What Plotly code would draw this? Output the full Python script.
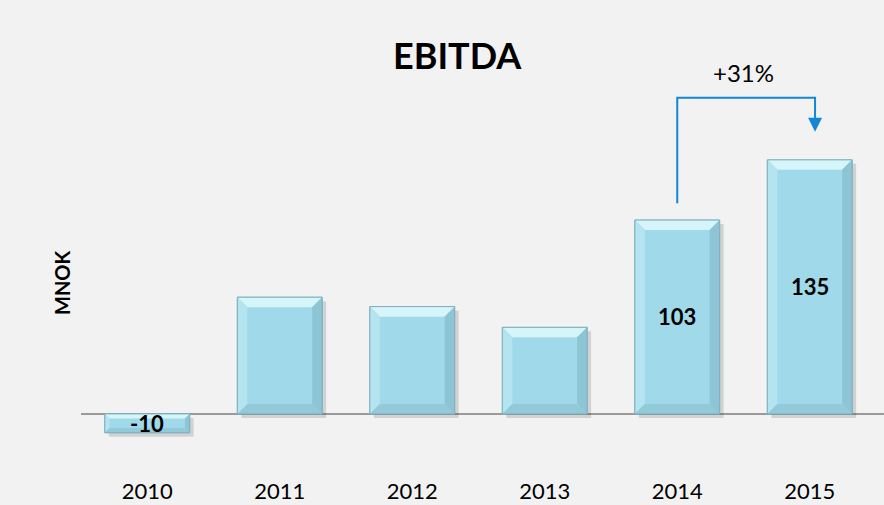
import plotly.graph_objects as go

# data
years = ["2010", "2011", "2012", "2013", "2014", "2015"]
ebitda = [-10, 62, 57, 46, 103, 135]
shown_labels = ["-10", "", "", "", "103", "135"]
growth_text = "+31%"

W, H = 884, 505
L, R, T, B = 81, 8, 94, 29
y_range = [-33, 170]
bar_w = 0.64

px_per_cat = (W - L - R) / len(years)
px_per_unit = (H - T - B) / (y_range[1] - y_range[0])

fig = go.Figure()
fig.add_trace(go.Bar(
    x=list(range(len(years))), y=ebitda, width=bar_w,
    marker=dict(color="#a0d9e9", line=dict(color="#7fb0bf", width=1)),
    hovertext=years, hoverinfo="text+y",
))

# bevel + shadow shapes built from the bar values
for i, v in enumerate(ebitda):
    x0, x1 = i - bar_w / 2, i + bar_w / 2
    top, bot = max(v, 0), min(v, 0)
    d = min(10, abs(v) * px_per_unit / 4)
    dx, dy = d / px_per_cat, d / px_per_unit
    sx, sy = 4 / px_per_cat, 4 / px_per_unit
    fig.add_shape(type="rect", x0=x0 + sx, x1=x1 + sx, y0=bot - sy, y1=top - sy,
                  fillcolor="rgba(0,0,0,0.13)", line_width=0, layer="below")
    faces = [
        (f"M {x0},{top} L {x1},{top} L {x1-dx},{top-dy} L {x0+dx},{top-dy} Z", "#d5f5fa"),
        (f"M {x0},{top} L {x0+dx},{top-dy} L {x0+dx},{bot+dy} L {x0},{bot} Z", "#b3e4f0"),
        (f"M {x1},{top} L {x1-dx},{top-dy} L {x1-dx},{bot+dy} L {x1},{bot} Z", "#8ec5d5"),
        (f"M {x0},{bot} L {x0+dx},{bot+dy} L {x1-dx},{bot+dy} L {x1},{bot} Z", "#93cad9"),
    ]
    for path, col in faces:
        fig.add_shape(type="path", path=path, fillcolor=col, line_width=0, layer="above")
    fig.add_shape(type="rect", x0=x0, x1=x1, y0=bot, y1=top,
                  line=dict(color="#7fb0bf", width=1), layer="above")
    if shown_labels[i]:
        fig.add_annotation(x=i, y=v / 2, text=f"<b>{shown_labels[i]}</b>", showarrow=False,
                           xanchor="center", yanchor="middle",
                           font=dict(family="Lato", size=22, color="black"))

# growth arrow from 2014 to 2015
v14, v15 = ebitda[4], ebitda[5]
top_line = v15 + 33
fig.add_shape(type="path",
              path=f"M 4,{v14 + 9} L 4,{top_line} L 5.04,{top_line} L 5.04,{v15 + 22}",
              line=dict(color="#1287d6", width=2), xref="x", yref="y")
fig.add_annotation(x=5.04, y=v15 + 15, ax=5.04, ay=v15 + 23, xref="x", yref="y",
                   axref="x", ayref="y", text="", showarrow=True,
                   arrowhead=2, arrowsize=1.4, arrowwidth=2, arrowcolor="#1287d6")
fig.add_annotation(x=4.5, y=1.055, xref="x", yref="paper", text=growth_text,
                   showarrow=False, xanchor="center", yanchor="middle",
                   font=dict(family="Lato", size=24, color="black"))

fig.add_annotation(x=0.474, y=1.102, xref="paper", yref="paper", text="<b>EBITDA</b>",
                   showarrow=False, xanchor="center", yanchor="middle",
                   font=dict(family="Lato", size=36, color="black"))
fig.add_annotation(x=-0.024, y=0.505, xref="paper", yref="paper", text="<b>MNOK</b>",
                   showarrow=False, textangle=-90, xanchor="center", yanchor="middle",
                   font=dict(family="Lato", size=20, color="black"))

fig.add_shape(type="line", xref="paper", x0=0.0, x1=1.01, y0=0, y1=0,
              line=dict(color="#9a9a9a", width=2), layer="below")

fig.update_layout(
    width=W, height=H,
    margin=dict(l=L, r=R, t=T, b=B),
    paper_bgcolor="#f2f2f2", plot_bgcolor="#f2f2f2",
    showlegend=False,
    xaxis=dict(showgrid=False, zeroline=False, showline=False, ticks="",
               tickvals=list(range(len(years))), ticktext=years,
               range=[-0.5, len(years) - 0.5], ticklabelstandoff=0,
               automargin=False,
               tickfont=dict(family="Lato", size=22, color="black")),
    yaxis=dict(range=y_range, visible=False, showgrid=False, automargin=False),
)
fig.write_html("out.html", config={"displayModeBar": False},
               post_script="document.body.style.margin='0';"
                           "document.body.style.background='#f2f2f2';")
